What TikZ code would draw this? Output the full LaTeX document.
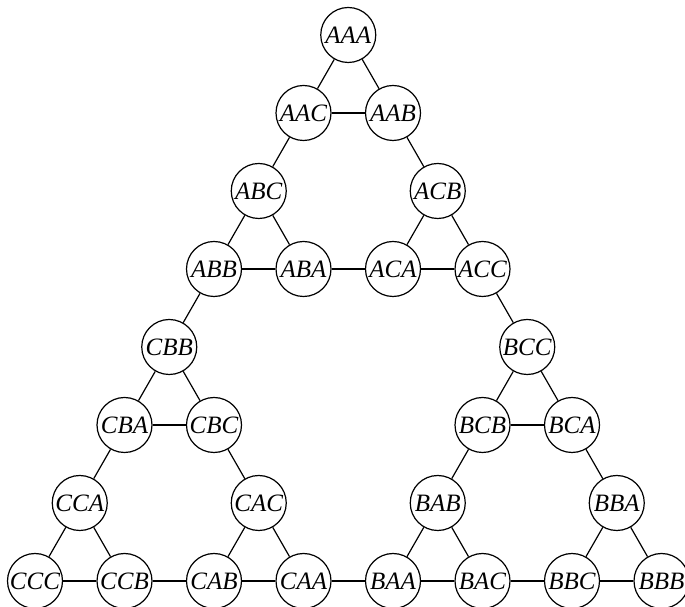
\documentclass[tikz,border=0pt]{standalone}
\usepackage{fontspec}
\setmainfont{Liberation Serif}
\begin{document}
\begin{tikzpicture}[x=1pt,y=1pt,
  state/.style={circle,draw,line width=1.2pt,fill=white,inner sep=0pt,
    minimum size=55pt,font=\fontsize{25}{25}\selectfont\itshape},
  link/.style={line width=1.2pt}]
\useasboundingbox (0,0) rectangle (685,607);
% position on the triangular grid: column i (half steps), row j
\def\px#1{35+89.5*#1}
\def\py#1{26+78*#1}
% row 0
\foreach \n/\i in {CCC/0,CCB/1,CAB/2,CAA/3,BAA/4,BAC/5,BBC/6,BBB/7}
  \node[state] (\n) at ({\px{\i}},{\py{0}}) {\n};
% row 1
\foreach \n/\i in {CCA/0.5,CAC/2.5,BAB/4.5,BBA/6.5}
  \node[state] (\n) at ({\px{\i}},{\py{1}}) {\n};
% row 2
\foreach \n/\i in {CBA/1,CBC/2,BCB/5,BCA/6}
  \node[state] (\n) at ({\px{\i}},{\py{2}}) {\n};
% row 3
\foreach \n/\i in {CBB/1.5,BCC/5.5}
  \node[state] (\n) at ({\px{\i}},{\py{3}}) {\n};
% row 4
\foreach \n/\i in {ABB/2,ABA/3,ACA/4,ACC/5}
  \node[state] (\n) at ({\px{\i}},{\py{4}}) {\n};
% row 5
\foreach \n/\i in {ABC/2.5,ACB/4.5}
  \node[state] (\n) at ({\px{\i}},{\py{5}}) {\n};
% row 6
\foreach \n/\i in {AAC/3,AAB/4}
  \node[state] (\n) at ({\px{\i}},{\py{6}}) {\n};
% row 7
\node[state] (AAA) at ({\px{3.5}},{\py{7}}) {AAA};
% edges
\foreach \a/\b in {CCC/CCB,CCB/CAB,CAB/CAA,CAA/BAA,BAA/BAC,BAC/BBC,BBC/BBB,
  CCA/CCC,CCA/CCB,CAC/CAB,CAC/CAA,BAB/BAA,BAB/BAC,BBA/BBC,BBA/BBB,
  CBA/CCA,CBC/CAC,CBA/CBC,BCB/BAB,BCA/BBA,BCB/BCA,
  CBB/CBA,CBB/CBC,BCC/BCB,BCC/BCA,ABB/CBB,ACC/BCC,
  ABB/ABA,ABA/ACA,ACA/ACC,ABC/ABB,ABC/ABA,ACB/ACA,ACB/ACC,
  AAC/ABC,AAB/ACB,AAC/AAB,AAA/AAC,AAA/AAB}
  \draw[link] (\a) -- (\b);
\end{tikzpicture}
\end{document}
